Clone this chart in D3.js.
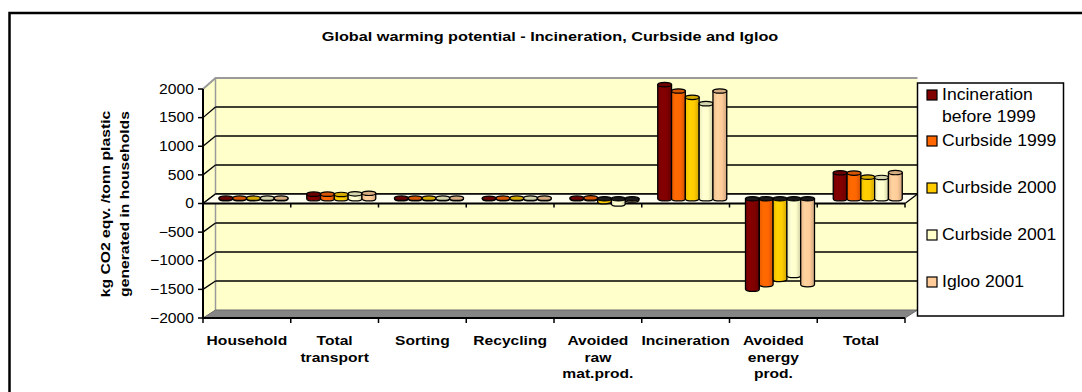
<!DOCTYPE html>
<html>
<head>
<meta charset="utf-8">
<script src="https://cdn.jsdelivr.net/npm/d3@7"></script>
<style>
  html, body { margin: 0; padding: 0; background: #fff; }
  svg { display: block; }
  text { font-family: "Liberation Sans", Arial, sans-serif; }
</style>
</head>
<body>
<svg id="chart" width="1082" height="392"></svg>
<script>
// ---- data ----
const categories = ["Household", "Total transport", "Sorting", "Recycling",
  "Avoided raw mat.prod.", "Incineration", "Avoided energy prod.", "Total"];
const categoryLabelLines = [["Household"], ["Total", "transport"], ["Sorting"], ["Recycling"],
  ["Avoided", "raw", "mat.prod."], ["Incineration"], ["Avoided", "energy", "prod."], ["Total"]];

const seriesNames = ["Incineration before 1999", "Curbside 1999", "Curbside 2000", "Curbside 2001", "Igloo 2001"];
const legendLines = [["Incineration", "before 1999"], ["Curbside 1999"], ["Curbside 2000"], ["Curbside 2001"], ["Igloo 2001"]];
const seriesColors = ["#800000", "#FF6600", "#FFCC00", "#FFFFCC", "#FFCC99"];

const incinerationBefore1999 = [10, 80, 10, 8, 10, 1980, -1570, 450];
const curbside1999          = [10, 80, 10, 10, 15, 1870, -1490, 445];
const curbside2000          = [10, 75, 10, 10, -50, 1760, -1400, 375];
const curbside2001          = [10, 85, 10, 10, -90, 1650, -1330, 370];
const igloo2001             = [10, 95, 10, 10, -20, 1870, -1490, 455];
const seriesValues = [incinerationBefore1999, curbside1999, curbside2000, curbside2001, igloo2001];

const yTicks = [-2000, -1500, -1000, -500, 0, 500, 1000, 1500, 2000];
const chartTitle = "Global warming potential - Incineration, Curbside and Igloo";
const yTitleLines = ["kg CO2 eqv. /tonn plastic", "generated in households"];

// ---- layout ----
const svg = d3.select("#chart");
const DX = 12.5;                 // depth offset of the back wall
const xF = d3.scaleBand().domain(categories).range([203, 905]);
const yF = d3.scaleLinear().domain([-2000, 2000]).range([318, 89]);   // front edge
const yB = d3.scaleLinear().domain([-2000, 2000]).range([310, 78]);   // back wall
const yM = v => (yF(v) + yB(v)) / 2;                                  // bars sit mid-depth
const inner = d3.scaleBand().domain(d3.range(seriesNames.length)).range([16, 85]);

// text with a stretch factor (horizontal, or along the line when rotated)
function stext(parent, x, y, str, o = {}) {
  const sx = o.sx || 1.15;
  const tf = o.rot
    ? `translate(${x},${y}) scale(1,${sx}) rotate(${o.rot})`
    : `translate(${x},${y}) scale(${sx},1)`;
  return parent.append("g").attr("transform", tf).append("text")
    .attr("text-anchor", o.anchor || "start")
    .attr("dominant-baseline", o.baseline || "auto")
    .attr("font-size", o.size || 12)
    .attr("font-weight", o.weight || "normal")
    .attr("fill", "#000")
    .text(str);
}

// outer chart frame
svg.append("rect").attr("x", 9.5).attr("y", 13).attr("width", 1100).attr("height", 400)
  .attr("fill", "none").attr("stroke", "#000").attr("stroke-width", 2.5);

// title
stext(svg, 550, 41, chartTitle, { anchor: "middle", size: 13, weight: "bold", sx: 1.25 });

// walls
const x0 = 203, x1 = 905;
const backL = x0 + DX, backR = x1 + DX;
svg.append("polygon")
  .attr("points", [[backL, yB(2000)], [backR, yB(2000)], [backR, yB(-2000)], [backL, yB(-2000)]].join(" "))
  .attr("fill", "#FFFFCC");
svg.append("polygon")
  .attr("points", [[x0, yF(2000)], [backL, yB(2000)], [backL, yB(-2000)], [x0, yF(-2000)]].join(" "))
  .attr("fill", "#FFFFCC");
svg.append("polyline")
  .attr("points", [[x0, yF(2000)], [backL, yB(2000)], [backR, yB(2000)]].join(" "))
  .attr("fill", "none").attr("stroke", "#9a9a9a").attr("stroke-width", 2);
svg.append("line").attr("x1", backL).attr("x2", backL).attr("y1", yB(2000)).attr("y2", yB(-2000))
  .attr("stroke", "#9a9a9a").attr("stroke-width", 1.5);
// floor
svg.append("polygon")
  .attr("points", [[x0, yF(-2000)], [x1, yF(-2000)], [backR, yB(-2000)], [backL, yB(-2000)]].join(" "))
  .attr("fill", "#858585").attr("stroke", "#6a6a6a").attr("stroke-width", 1);

// gridlines on back wall and side wall
const grid = yTicks.filter(v => v !== 2000 && v !== -2000);
svg.append("g").selectAll("line").data(grid).join("line")
  .attr("x1", backL).attr("x2", backR).attr("y1", d => yB(d)).attr("y2", d => yB(d))
  .attr("stroke", "#000").attr("stroke-width", 1.3);
svg.append("g").selectAll("line").data(grid).join("line")
  .attr("x1", x0).attr("x2", backL).attr("y1", d => yF(d)).attr("y2", d => yB(d))
  .attr("stroke", "#000").attr("stroke-width", 1.3);

// zero plane
svg.append("polygon")
  .attr("points", [[x0, yF(0)], [x1, yF(0)], [backR, yB(0)], [backL, yB(0)]].join(" "))
  .attr("fill", "#FFFFF0");
svg.append("line").attr("x1", x0).attr("x2", x1).attr("y1", yF(0)).attr("y2", yF(0))
  .attr("stroke", "#000").attr("stroke-width", 2);
svg.append("line").attr("x1", backL).attr("x2", backR).attr("y1", yB(0)).attr("y2", yB(0))
  .attr("stroke", "#000").attr("stroke-width", 1.3);
svg.append("line").attr("x1", x0).attr("x2", backL).attr("y1", yF(0)).attr("y2", yB(0))
  .attr("stroke", "#000").attr("stroke-width", 1.3);
svg.append("line").attr("x1", x1).attr("x2", backR).attr("y1", yF(0)).attr("y2", yB(0))
  .attr("stroke", "#000").attr("stroke-width", 1.3);

// gradients for cylinder shading
const defs = svg.append("defs");
seriesColors.forEach((c, i) => {
  const g = defs.append("linearGradient").attr("id", "cyl" + i).attr("x1", "0").attr("x2", "1").attr("y1", "0").attr("y2", "0");
  const base = d3.color(c);
  g.append("stop").attr("offset", "0%").attr("stop-color", base.darker(0.25));
  g.append("stop").attr("offset", "30%").attr("stop-color", base.brighter(0.1));
  g.append("stop").attr("offset", "65%").attr("stop-color", base);
  g.append("stop").attr("offset", "100%").attr("stop-color", base.darker(0.6));
});

// cylinders
const RY = 2.2;
const y0 = yM(0);
const bars = svg.append("g");
categories.forEach((cat, ci) => {
  seriesValues.forEach((vals, si) => {
    const v = vals[ci];
    const bx = xF(cat) + inner(si);
    const w = inner.bandwidth();
    const rx = w / 2;
    const yv = yM(v);
    const top = Math.min(yv, y0), bot = Math.max(yv, y0);
    const col = d3.color(seriesColors[si]);
    bars.append("path")
      .attr("d", `M${bx},${top} L${bx},${bot} A${rx},${RY} 0 0 0 ${bx + w},${bot} L${bx + w},${top} Z`)
      .attr("fill", `url(#cyl${si})`).attr("stroke", "#000").attr("stroke-width", 1.3);
    bars.append("ellipse")
      .attr("cx", bx + rx).attr("cy", top).attr("rx", rx).attr("ry", RY)
      .attr("fill", v >= 0 ? col.darker(0.5) : "#1a1a1a").attr("stroke", "#000").attr("stroke-width", 1.2);
  });
});

// category ticks (floor and zero line)
const bounds = categories.map(c => xF(c)).concat([x1]);
svg.append("g").selectAll("line").data(bounds).join("line")
  .attr("x1", d => d).attr("x2", d => d).attr("y1", yF(-2000)).attr("y2", yF(-2000) + 5)
  .attr("stroke", "#000").attr("stroke-width", 1.5);
svg.append("g").selectAll("line").data(bounds.slice(1)).join("line")
  .attr("x1", d => d).attr("x2", d => d).attr("y1", yF(0)).attr("y2", yF(0) + 4)
  .attr("stroke", "#000").attr("stroke-width", 1.5);
svg.append("line").attr("x1", x0).attr("x2", x1).attr("y1", yF(-2000)).attr("y2", yF(-2000))
  .attr("stroke", "#000").attr("stroke-width", 2);

// value axis
svg.append("line").attr("x1", x0).attr("x2", x0).attr("y1", yF(2000)).attr("y2", yF(-2000))
  .attr("stroke", "#000").attr("stroke-width", 2);
svg.append("g").selectAll("line").data(yTicks).join("line")
  .attr("x1", x0 - 5).attr("x2", x0).attr("y1", d => yF(d)).attr("y2", d => yF(d))
  .attr("stroke", "#000").attr("stroke-width", 1.5);
yTicks.forEach(v => {
  stext(svg, 194, yF(v), d3.format("d")(v), { anchor: "end", baseline: "central", size: 14, sx: 1.12 });
});

// value axis title
yTitleLines.forEach((line, i) => {
  stext(svg, 109.5 + i * 19, 204, line, { anchor: "middle", size: 13, weight: "bold", sx: 1.21, rot: -90 });
});

// category labels
categories.forEach((cat, ci) => {
  const cx = xF(cat) + xF.bandwidth() / 2;
  categoryLabelLines[ci].forEach((line, li) => {
    stext(svg, cx, 345 + li * 16.5, line, { anchor: "middle", size: 12.5, weight: "bold", sx: 1.25 });
  });
});

// legend
const lg = svg.append("g");
lg.append("rect").attr("x", 917.5).attr("y", 83).attr("width", 146).attr("height", 233)
  .attr("fill", "#fff").attr("stroke", "#000").attr("stroke-width", 1.5);
const legendY = [95, 141, 188, 235, 282];
legendLines.forEach((lines, i) => {
  lg.append("rect").attr("x", 927).attr("y", legendY[i] - 5).attr("width", 10).attr("height", 10)
    .attr("fill", seriesColors[i]).attr("stroke", "#000").attr("stroke-width", 1.2);
  lines.forEach((line, li) => {
    stext(lg, 942, legendY[i] + li * 22, line, { baseline: "central", size: 16, sx: 1.1 });
  });
});
</script>
</body>
</html>
